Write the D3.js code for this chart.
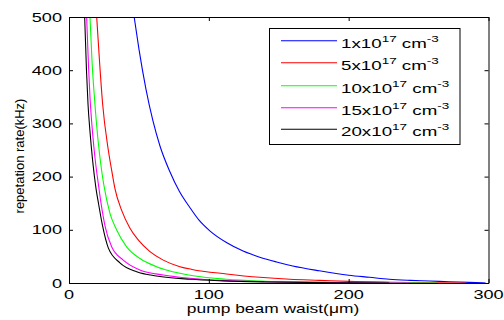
<!DOCTYPE html>
<html>
<head>
<meta charset="utf-8">
<script src="https://cdn.jsdelivr.net/npm/d3@7"></script>
<style>
  html, body { margin: 0; padding: 0; background: #fff; }
  svg { display: block; }
  text { font-family: "Liberation Sans", Arial, sans-serif; fill: #000; }
</style>
</head>
<body>
<svg id="chart" width="504" height="320"></svg>
<script>
// ---- data ----
const xTicks = [0, 100, 200, 300];
const yTicks = [0, 100, 200, 300, 400, 500];
const xLabel = "pump beam waist(\u03bcm)";
const yLabel = "repetation rate(kHz)";

const densities = ["1", "5", "10", "15", "20"];
const colors = ["#0000ff", "#ff0000", "#00ff00", "#ff00ff", "#000000"];

const waistBlue = [46.6, 50, 55, 60, 65, 72, 79, 86.4, 93, 100.7, 112.6, 124.5, 136.4, 148.4, 160, 179, 200, 215, 229, 244, 258, 272, 286, 298];
const rateBlue  = [500, 440, 365, 305, 258, 210, 172, 142, 118, 98, 76, 60, 48.5, 39.5, 32, 23, 14.7, 10.7, 7, 5, 3.8, 2.4, 1.2, 0];

const waistRed = [19.8, 22, 24, 28.1, 30.5, 32.9, 37.6, 43.6, 49.5, 57.9, 67.4, 79.3, 88, 112.6, 136.4, 158, 179, 200, 230, 260, 284];
const rateRed  = [500, 410, 338, 250, 212, 177, 137, 103, 81, 59, 43, 30.7, 25.5, 17, 10.7, 7, 5, 3, 1.5, 0.6, 0];

const waistGreen = [15, 16.5, 18.3, 20.9, 23.3, 25, 29.3, 34, 41.2, 50.7, 62.6, 79.3, 88.8, 112.6, 136.4, 160, 200, 240, 263];
const rateGreen  = [500, 415, 345, 265, 212, 183, 131, 100, 68, 46, 30.7, 18.2, 13.5, 7, 3.8, 2.2, 1, 0.3, 0];

const waistMagenta = [12.6, 14, 15, 17, 18.6, 21.2, 22.9, 25.7, 30.5, 38.8, 50.7, 67.4, 86.4, 112, 140, 180, 215, 244];
const rateMagenta  = [500, 405, 350, 278, 235, 182, 150, 108, 68, 43, 24.4, 15, 8.8, 4.5, 2.5, 1, 0.4, 0];

const waistBlack = [11.2, 12.5, 13.6, 15, 16.9, 19.3, 21.2, 23.8, 28.1, 36.4, 48.4, 62.6, 86.4, 110, 140, 180, 229];
const rateBlack  = [500, 400, 336, 285, 230, 178, 148, 110, 66, 38, 21.2, 13.2, 7, 4, 2, 0.8, 0];

const waists = [waistBlue, waistRed, waistGreen, waistMagenta, waistBlack];
const rates  = [rateBlue, rateRed, rateGreen, rateMagenta, rateBlack];

// ---- layout ----
const svg = d3.select("#chart");
const pLeft = 69, pRight = 488.5, pTop = 17, pBottom = 283;
const sx = 1.45; // horizontal text stretch of the reference

const x = d3.scaleLinear().domain([0, 300]).range([pLeft, pRight]);
const y = d3.scaleLinear().domain([0, 500]).range([pBottom, pTop]);

svg.append("defs").append("clipPath").attr("id", "clip")
  .append("rect").attr("x", pLeft).attr("y", pTop)
  .attr("width", pRight - pLeft).attr("height", pBottom - pTop);

// series lines
const line = d3.line()
  .x(d => x(d[0])).y(d => y(d[1]))
  .curve(d3.curveMonotoneX);

const g = svg.append("g").attr("clip-path", "url(#clip)");
waists.forEach((w, i) => {
  const pts = w.map((v, j) => [v, rates[i][j]]);
  g.append("path").datum(pts)
    .attr("d", line)
    .attr("fill", "none")
    .attr("stroke", colors[i])
    .attr("stroke-width", 1.1);
});

// axes (MATLAB style: inward ticks on all sides)
const tickLen = 4;
const axB = svg.append("g").attr("transform", `translate(0,${pBottom})`)
  .call(d3.axisBottom(x).tickValues(xTicks).tickSizeInner(-tickLen).tickSizeOuter(0).tickFormat(""));
const axT = svg.append("g").attr("transform", `translate(0,${pTop})`)
  .call(d3.axisTop(x).tickValues(xTicks).tickSizeInner(-tickLen).tickSizeOuter(0).tickFormat(""));
const axL = svg.append("g").attr("transform", `translate(${pLeft},0)`)
  .call(d3.axisLeft(y).tickValues(yTicks).tickSizeInner(-tickLen).tickSizeOuter(0).tickFormat(""));
const axR = svg.append("g").attr("transform", `translate(${pRight},0)`)
  .call(d3.axisRight(y).tickValues(yTicks).tickSizeInner(-tickLen).tickSizeOuter(0).tickFormat(""));
[axB, axT, axL, axR].forEach(a => {
  a.selectAll("path.domain").attr("stroke", "#000").attr("stroke-width", 1);
  a.selectAll(".tick line").attr("stroke", "#000").attr("stroke-width", 1);
});

// stretched text helper
function stext(parent, tx, ty, str, size, anchor) {
  return parent.append("text")
    .attr("transform", `translate(${tx},${ty}) scale(${sx},1)`)
    .attr("font-size", size)
    .attr("text-anchor", anchor || "start")
    .text(str);
}

// tick labels
xTicks.forEach(t => stext(svg, x(t), 299, String(t), 12.5, "middle"));
yTicks.forEach(t => stext(svg, 62, y(t) + 4.5, String(t), 12.5, "end"));

// axis titles
stext(svg, 273, 313, xLabel, 12, "middle");
svg.append("text")
  .attr("transform", `translate(24,156) rotate(-90)`)
  .attr("font-size", 13)
  .attr("text-anchor", "middle")
  .text(yLabel);

// legend
const lg = svg.append("g");
lg.append("rect").attr("x", 269.5).attr("y", 28.5).attr("width", 190.5).attr("height", 116)
  .attr("fill", "#fff").attr("stroke", "#000").attr("stroke-width", 1);
const rowY = [40.7, 62.7, 85.7, 107.7, 129.3];
densities.forEach((d, i) => {
  lg.append("line")
    .attr("x1", 281).attr("x2", 337)
    .attr("y1", rowY[i]).attr("y2", rowY[i])
    .attr("stroke", colors[i]).attr("stroke-width", 1.1);
  const t = lg.append("text")
    .attr("transform", `translate(341,${rowY[i] + 7}) scale(1.5,1)`)
    .attr("font-size", 12.5);
  t.append("tspan").text(d + "x10");
  t.append("tspan").attr("font-size", 9).attr("dy", -6).text("17");
  t.append("tspan").attr("dy", 6).text(" cm");
  t.append("tspan").attr("font-size", 9).attr("dy", -6).text("-3");
});
</script>
</body>
</html>
